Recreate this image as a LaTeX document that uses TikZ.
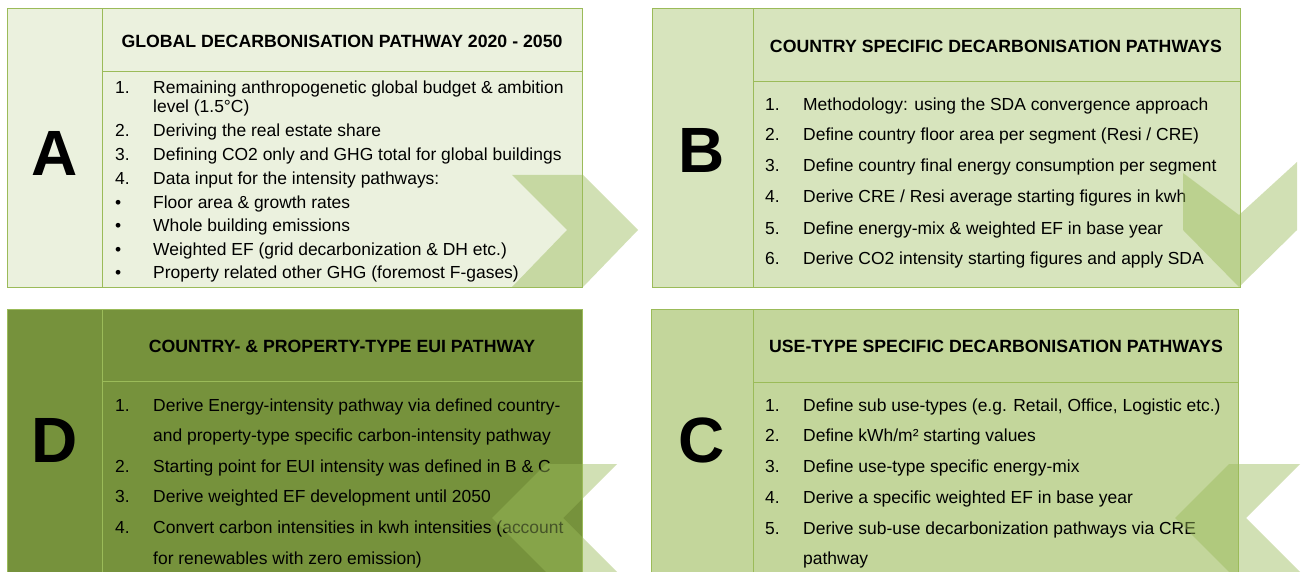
\documentclass[tikz,border=0pt]{standalone}
\usepackage{fontspec}
\setmainfont{Liberation Sans}
\definecolor{bgA}{HTML}{EBF1DE}
\definecolor{bgB}{HTML}{D7E4BD}
\definecolor{bgC}{HTML}{C3D69B}
\definecolor{bgD}{HTML}{76923C}
\definecolor{lineG}{HTML}{9BBB59}
\definecolor{chevG}{HTML}{9BBB59}
\begin{document}
\begin{tikzpicture}[x=1pt,y=-1pt,
  panel/.style={draw=lineG, line width=1pt},
  divider/.style={draw=lineG, line width=1pt},
  bigletter/.style={inner sep=0pt, font=\fontsize{64}{64}\selectfont\bfseries, anchor=center},
  head/.style={inner sep=0pt, font=\fontsize{17.7}{20}\selectfont\bfseries, anchor=center},
  itm/.style={inner sep=0pt, font=\fontsize{17.45}{20}\selectfont, anchor=base west},
  chev/.style={fill=chevG, fill opacity=0.45, draw=none}]
\useasboundingbox (0,0) rectangle (1309,572);
\clip (0,0) rectangle (1309,572);

% ---- panels ----
\fill[white] (0,0) rectangle (1309,572);
\draw[panel, fill=bgA] (7,9) rectangle (582,287);
\draw[divider] (102,9) -- (102,287);
\draw[divider] (102,72) -- (582,72);

\draw[panel, fill=bgB] (652,9) rectangle (1240,287);
\draw[divider] (753,9) -- (753,287);
\draw[divider] (753,82) -- (1240,82);

\draw[panel, fill=bgD] (7,309) rectangle (582,580);
\draw[divider] (102,309) -- (102,580);
\draw[divider] (102,381) -- (582,381);

\draw[panel, fill=bgC] (651,309) rectangle (1238,580);
\draw[divider] (753,309) -- (753,580);
\draw[divider] (753,382) -- (1238,382);

% ---- big letters ----
\node[bigletter] (LA) at (55,153) {A};
\node[bigletter] (LB) at (702,150) {B};
\node[bigletter] (LD) at (55,440) {D};
\node[bigletter] (LC) at (702,440) {C};

% ---- headers ----
\node[head] (hA) at (342,41) {GLOBAL DECARBONISATION PATHWAY 2020 - 2050};
\node[head] (hB) at (996,46) {COUNTRY SPECIFIC DECARBONISATION PATHWAYS};
\node[head] (hD) at (342,346) {COUNTRY- \& PROPERTY-TYPE EUI PATHWAY};
\node[head] (hC) at (996,346) {USE-TYPE SPECIFIC DECARBONISATION PATHWAYS};

% ---- panel A items ----
\node[itm] (a1n) at (115,94) {1.};
\node[itm] (a1t) at (153,94) {Remaining anthropogenetic global budget \& ambition};
\node[itm] (a1u) at (153,113) {level (1.5°C)};
\node[itm] (a2n) at (115,137) {2.};
\node[itm] (a2t) at (153,137) {Deriving the real estate share};
\node[itm] (a3n) at (115,161) {3.};
\node[itm] (a3t) at (153,161) {Defining CO2 only and GHG total for global buildings};
\node[itm] (a4n) at (115,185) {4.};
\node[itm] (a4t) at (153,185) {Data input for the intensity pathways:};
\node[itm] (a5n) at (115,209) {•};
\node[itm] (a5t) at (153,209) {Floor area \& growth rates};
\node[itm] (a6n) at (115,232) {•};
\node[itm] (a6t) at (153,232) {Whole building emissions};
\node[itm] (a7n) at (115,255) {•};
\node[itm] (a7t) at (153,255) {Weighted EF (grid decarbonization \& DH etc.)};
\node[itm] (a8n) at (115,278) {•};
\node[itm] (a8t) at (153,278) {Property related other GHG (foremost F-gases)};

% ---- panel B items ----
\node[itm] (b1n) at (765,111) {1.};
\node[itm] (b1t) at (803,111) {Methodology: using the SDA convergence approach};
\node[itm] (b2n) at (765,141) {2.};
\node[itm] (b2t) at (803,141) {Define country floor area per segment (Resi / CRE)};
\node[itm] (b3n) at (765,172) {3.};
\node[itm] (b3t) at (803,172) {Define country final energy consumption per segment};
\node[itm] (b4n) at (765,203) {4.};
\node[itm] (b4t) at (803,203) {Derive CRE / Resi average starting figures in kwh};
\node[itm] (b5n) at (765,234) {5.};
\node[itm] (b5t) at (803,234) {Define energy-mix \& weighted EF in base year};
\node[itm] (b6n) at (765,265) {6.};
\node[itm] (b6t) at (803,265) {Derive CO2 intensity starting figures and apply SDA};

% ---- panel D items ----
\node[itm] (d1n) at (115,411) {1.};
\node[itm] (d1t) at (153,411) {Derive Energy-intensity pathway via defined country-};
\node[itm] (d1u) at (153,441) {and property-type specific carbon-intensity pathway};
\node[itm] (d2n) at (115,472) {2.};
\node[itm] (d2t) at (153,472) {Starting point for EUI intensity was defined in B \& C};
\node[itm] (d3n) at (115,502) {3.};
\node[itm] (d3t) at (153,502) {Derive weighted EF development until 2050};
\node[itm] (d4n) at (115,533) {4.};
\node[itm] (d4t) at (153,533) {Convert carbon intensities in kwh intensities (account};
\node[itm] (d4u) at (153,564) {for renewables with zero emission)};

% ---- panel C items ----
\node[itm] (c1n) at (765,411) {1.};
\node[itm] (c1t) at (803,411) {Define sub use-types (e.g. Retail, Office, Logistic etc.)};
\node[itm] (c2n) at (765,441) {2.};
\node[itm] (c2t) at (803,441) {Define kWh/m² starting values};
\node[itm] (c3n) at (765,472) {3.};
\node[itm] (c3t) at (803,472) {Define use-type specific energy-mix};
\node[itm] (c4n) at (765,503) {4.};
\node[itm] (c4t) at (803,503) {Derive a specific weighted EF in base year};
\node[itm] (c5n) at (765,534) {5.};
\node[itm] (c5t) at (803,534) {Derive sub-use decarbonization pathways via CRE};
\node[itm] (c5u) at (803,564) {pathway};

% ---- chevrons ----
\fill[chev] (512,175) -- (583,175) -- (638,230) -- (583,287) -- (512,287) -- (567,230) -- cycle;
\fill[chev] (1183,173) -- (1239,215) -- (1297,162) -- (1297,230) -- (1239,287) -- (1183,230) -- cycle;
\fill[chev] (546,464) -- (617,464) -- (563,518) -- (617,572) -- (546,572) -- (492,518) -- cycle;
\fill[chev] (1229,464) -- (1300,464) -- (1246,518) -- (1300,572) -- (1229,572) -- (1175,518) -- cycle;
\end{tikzpicture}
\end{document}
